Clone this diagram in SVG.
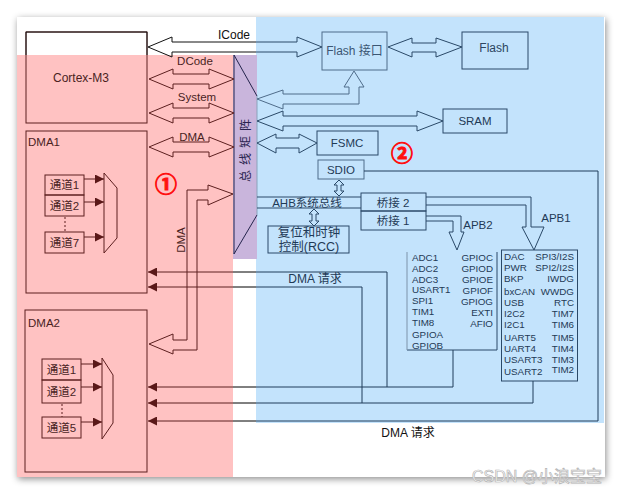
<svg xmlns="http://www.w3.org/2000/svg" width="622" height="494" viewBox="0 0 622 494">
<defs>
<style>
.t{font-family:'Liberation Sans','Noto Sans CJK SC',sans-serif;font-size:11.5px;dominant-baseline:central}
.c{text-anchor:middle}
.e{text-anchor:end}
.pk{fill:#4a1f1f}
.bl{fill:#1f3a56}
.sm{font-size:9.8px}
.mr{fill:none;stroke:#5c1f1f;stroke-width:1}
.nv{fill:none;stroke:#2a4968;stroke-width:1}
.nvl{fill:none;stroke:#4f6c8a;stroke-width:1}
.req{fill:none;stroke:url(#gh);stroke-width:1;marker-end:url(#ah)}
.ch{marker-end:url(#ah)}
.num{font-family:'Noto Sans CJK SC',sans-serif;font-size:22px;font-weight:bold;fill:#ff1010;stroke:#ff1010;stroke-width:0.9;text-anchor:middle;dominant-baseline:central}
</style>
<linearGradient id="gh" gradientUnits="userSpaceOnUse" x1="0" y1="0" x2="622" y2="0">
<stop offset="0" stop-color="#5c1f1f"/><stop offset="0.3746" stop-color="#5c1f1f"/>
<stop offset="0.3746" stop-color="#000"/><stop offset="0.4116" stop-color="#000"/>
<stop offset="0.4116" stop-color="#1f3c5a"/><stop offset="1" stop-color="#1f3c5a"/>
</linearGradient>
<linearGradient id="gi" gradientUnits="userSpaceOnUse" x1="0" y1="0" x2="622" y2="0">
<stop offset="0" stop-color="#111"/><stop offset="0.4116" stop-color="#111"/>
<stop offset="0.4116" stop-color="#2a4968"/><stop offset="1" stop-color="#2a4968"/>
</linearGradient>
<marker id="ah" viewBox="0 0 9 9" refX="9" refY="4.5" markerWidth="9" markerHeight="9" markerUnits="userSpaceOnUse" orient="auto"><path d="M0,0L9,4.5L0,9Z" fill="#5a1818"/></marker>
<filter id="sh" x="-5%" y="-5%" width="110%" height="110%"><feDropShadow dx="1" dy="2" stdDeviation="3.5" flood-color="#000" flood-opacity="0.45"/></filter>
</defs>

<rect x="0" y="0" width="622" height="494" fill="#fff"/>
<rect x="17" y="17" width="588" height="460" fill="#fff" filter="url(#sh)"/>
<rect x="17" y="55" width="216" height="422" fill="#ffc2c2"/>
<rect x="256" y="17" width="348" height="406" fill="#c3e3fc"/>
<rect x="233" y="55" width="24" height="204" fill="#c9b5dc"/>

<g id="cortex">
<rect class="mr" x="26" y="32" width="121" height="91"/>
<path d="M26,55V32H147V55" fill="none" stroke="#111"/>
<text class="t pk c" x="81" y="78" style="font-size:12px">Cortex-M3</text>
</g>

<g id="dma1">
<rect class="mr" x="26" y="131" width="121" height="162"/>
<text class="t pk" x="28" y="142">DMA1</text>
<rect class="mr" x="45" y="175" width="39" height="20"/>
<rect class="mr" x="45" y="195" width="39" height="21"/>
<rect class="mr" x="45" y="232" width="39" height="21"/>
<text class="t pk c" x="64.5" y="185">通道1</text>
<text class="t pk c" x="64.5" y="206">通道2</text>
<text class="t pk c" x="64.5" y="243">通道7</text>
<line class="mr" x1="65" y1="217" x2="65" y2="232" stroke-dasharray="2,2"/>
<polygon class="mr" points="104,173 117,188 117,238 104,253"/>
<line class="mr ch" x1="84" y1="179" x2="104" y2="179"/>
<line class="mr ch" x1="84" y1="202" x2="104" y2="202"/>
<line class="mr ch" x1="84" y1="237" x2="104" y2="237"/>
</g>

<g id="dma2">
<rect class="mr" x="25" y="310" width="122" height="162"/>
<text class="t pk" x="28" y="323">DMA2</text>
<rect class="mr" x="42" y="359" width="39" height="21"/>
<rect class="mr" x="42" y="380" width="39" height="23"/>
<rect class="mr" x="42" y="417" width="39" height="21"/>
<text class="t pk c" x="61.5" y="370">通道1</text>
<text class="t pk c" x="61.5" y="392">通道2</text>
<text class="t pk c" x="61.5" y="428">通道5</text>
<line class="mr" x1="62" y1="404" x2="62" y2="417" stroke-dasharray="2,2"/>
<polygon class="mr" points="102,358 113,375 113,423 102,439"/>
<line class="mr ch" x1="81" y1="364" x2="102" y2="364"/>
<line class="mr ch" x1="81" y1="387" x2="102" y2="387"/>
<line class="mr ch" x1="81" y1="422" x2="102" y2="422"/>
</g>

<g id="busmatrix">
<path d="M257,96L234,55V254L257,215" fill="none" stroke="#24244c"/>
<line x1="257" y1="96" x2="257" y2="215" stroke="#8aa2bb"/>
<text class="t" x="246" y="148" transform="rotate(-90 246 148)" style="font-size:12px;letter-spacing:5px;text-anchor:middle;fill:#2a2450">总线矩阵</text>
</g>

<g id="flashif">
<rect class="nvl" x="322" y="32" width="65" height="38"/>
<text class="t c" x="354.5" y="51" style="font-size:12px;fill:#3b5673">Flash 接口</text>
</g>
<g id="flash">
<rect class="nv" x="462" y="32" width="66" height="37"/>
<text class="t c" x="494" y="48" style="font-size:12px;fill:#2c4560">Flash</text>
</g>
<g id="sram">
<rect class="nv" x="443" y="109" width="64" height="24"/>
<text class="t bl c" x="475" y="121">SRAM</text>
</g>
<g id="fsmc">
<rect class="nv" x="317" y="131" width="61" height="24"/>
<text class="t bl c" x="347" y="143">FSMC</text>
</g>
<g id="sdio">
<rect class="nvl" x="318" y="160" width="46" height="19"/>
<text class="t bl c" x="341" y="170">SDIO</text>
</g>
<g id="ahb">
<text class="t bl c" x="307" y="202.5">AHB系统总线</text>
</g>
<g id="rcc">
<rect class="nv" x="268" y="226" width="81" height="27"/>
<text class="t bl c" x="309" y="233" style="font-size:12.5px">复位和时钟</text>
<text class="t bl c" x="309" y="247" style="font-size:12.5px">控制(RCC)</text>
</g>
<g id="bridge2">
<rect class="nv" x="361" y="193" width="65" height="18"/>
<text class="t bl c" x="393" y="202.5">桥接 2</text>
</g>
<g id="bridge1">
<rect class="nv" x="361" y="211" width="65" height="19"/>
<text class="t bl c" x="393" y="220.5">桥接 1</text>
</g>
<g id="apb2">
<path d="M497,252V350H407" class="nv"/>
<line x1="407" y1="252" x2="407" y2="350" stroke="#7d93aa"/>
<text class="t bl sm" x="412" y="257">ADC1</text>
<text class="t bl sm" x="412" y="268">ADC2</text>
<text class="t bl sm" x="412" y="279">ADC3</text>
<text class="t bl sm" x="412" y="289.5">USART1</text>
<text class="t bl sm" x="412" y="300">SPI1</text>
<text class="t bl sm" x="412" y="311">TIM1</text>
<text class="t bl sm" x="412" y="322.5">TIM8</text>
<text class="t bl sm" x="412" y="334">GPIOA</text>
<text class="t bl sm" x="412" y="345">GPIOB</text>
<text class="t bl sm e" x="493" y="257">GPIOC</text>
<text class="t bl sm e" x="493" y="268">GPIOD</text>
<text class="t bl sm e" x="493" y="279">GPIOE</text>
<text class="t bl sm e" x="493" y="290">GPIOF</text>
<text class="t bl sm e" x="493" y="301">GPIOG</text>
<text class="t bl sm e" x="493" y="312">EXTI</text>
<text class="t bl sm e" x="493" y="323">AFIO</text>
</g>
<g id="apb1">
<rect class="nv" x="501.5" y="250" width="76" height="131"/>
<text class="t bl sm" x="504" y="256">DAC</text>
<text class="t bl sm" x="504" y="267">PWR</text>
<text class="t bl sm" x="504" y="278">BKP</text>
<text class="t bl sm" x="504" y="291">bxCAN</text>
<text class="t bl sm" x="504" y="302">USB</text>
<text class="t bl sm" x="504" y="313">I2C2</text>
<text class="t bl sm" x="504" y="324">I2C1</text>
<text class="t bl sm" x="504" y="337">UART5</text>
<text class="t bl sm" x="504" y="348">UART4</text>
<text class="t bl sm" x="504" y="359">USART3</text>
<text class="t bl sm" x="504" y="371">USART2</text>
<text class="t bl sm e" x="574" y="256">SPI3/I2S</text>
<text class="t bl sm e" x="574" y="267">SPI2/I2S</text>
<text class="t bl sm e" x="574" y="278">IWDG</text>
<text class="t bl sm e" x="574" y="291">WWDG</text>
<text class="t bl sm e" x="574" y="302">RTC</text>
<text class="t bl sm e" x="574" y="313">TIM7</text>
<text class="t bl sm e" x="574" y="324">TIM6</text>
<text class="t bl sm e" x="574" y="337">TIM5</text>
<text class="t bl sm e" x="574" y="348">TIM4</text>
<text class="t bl sm e" x="574" y="359">TIM3</text>
<text class="t bl sm e" x="574" y="369">TIM2</text>
</g>

<g id="connectors">
<path d="M148,47L172,37V42H297V37L322,47L297,57V52H172V57Z" fill="none" stroke="url(#gi)"/>
<path class="mr" d="M149,79L173,69V74H209V69L234,79L209,89V84H173V89Z"/>
<path class="mr" d="M149,113L173,103V108H209V103L234,113L209,123V118H173V123Z"/>
<path class="mr" d="M149,147L173,137V142H209V137L234,147L209,157V152H173V157Z"/>
<path class="mr" d="M233,194L208,185V190H187V340H173V334L149,344L173,354V350H197V200H208V205Z"/>
<path class="nvl" d="M257,99L283,90V94H349V87H344L354,71L364,87H359V104H283V109Z"/>
<path class="nv" d="M257,121L283,111V116H417V111L443,121L417,131V126H283V131Z"/>
<path class="nv" d="M257,143L276,134V138H299V134L317,143L299,153V148H276V153Z"/>
<path class="nv" d="M388,47L412,38V43H436V38L462,47L436,57V52H412V57Z"/>
<path class="nv" d="M339,180L344,185H341V191H344L339,196L334,191H337V185H334Z"/>
<path class="nv" d="M314,209L319,214H316V221H319L314,226L309,221H312V214H309Z"/>
<path class="nv" d="M257,197H361M257,208H361"/>
<path class="nv" d="M426,197H531V227H544L534,250L522,227H526V205H426"/>
<path class="nv" d="M426,216H461V232H464L457,250L449,232H453V221H426"/>
<path class="req" d="M453,350V387H148"/>
<path class="req" d="M387,387V272H148"/>
<path class="req" d="M533,381V403H148"/>
<path class="req" d="M362,403V287H148"/>
<path class="req" d="M364,171H598V421H148"/>
</g>

<text class="t" x="234" y="35" style="font-size:12px;text-anchor:middle;fill:#111">ICode</text>
<text class="t pk c" x="195" y="61">DCode</text>
<text class="t pk c" x="197" y="97">System</text>
<text class="t pk c" x="192" y="137">DMA</text>
<text class="t pk c" x="181" y="240" transform="rotate(-90 181 240)">DMA</text>
<text class="t bl" x="478" y="225" style="text-anchor:middle">APB2</text>
<text class="t bl" x="556" y="218" style="text-anchor:middle">APB1</text>
<text class="t bl c" x="315" y="279" style="font-size:12px">DMA 请求</text>
<text class="t c" x="408" y="433" style="font-size:12px;fill:#111">DMA 请求</text>
<text class="num" x="166" y="182">①</text>
<text class="num" x="402" y="151">②</text>
<text class="t" x="537" y="476" style="font-size:16px;text-anchor:middle;fill:#fff;stroke:#b4b4b4;stroke-width:0.7">CSDN @小浪宝宝</text>
</svg>
